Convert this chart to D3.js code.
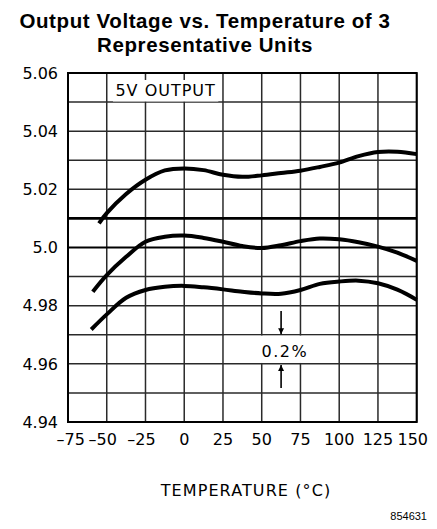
<!DOCTYPE html>
<html>
<head>
<meta charset="utf-8">
<script src="https://cdn.jsdelivr.net/npm/d3@7"></script>
<style>
  html, body { margin: 0; padding: 0; background: #fff; }
  svg { display: block; }
</style>
</head>
<body>
<svg id="chart" width="437" height="529"></svg>
<script>
// ---- data ----
const titleLines = ["Output Voltage vs. Temperature of 3", "Representative Units"];
const xTitle = "TEMPERATURE (°C)";
const figureId = "854631";
const boxLabel = "5V OUTPUT";
const spanLabel = "0.2%";

const xTicks = [-75, -50, -25, 0, 25, 50, 75, 100, 125, 150];
const xTickLabels = ["–75", "–50", "–25", "0", "25", "50", "75", "100", "125", "150"];
const yGrid = [4.94, 4.95, 4.96, 4.97, 4.98, 4.99, 5.00, 5.01, 5.02, 5.03, 5.04, 5.05, 5.06];
const yTicks = [4.94, 4.96, 4.98, 5.00, 5.02, 5.04, 5.06];
const yTickLabels = ["4.94", "4.96", "4.98", "5.0", "5.02", "5.04", "5.06"];

const unit1T = [-55, -50, -37.5, -25, -12.5, 0, 12.5, 25, 37.5, 50, 62.5, 75, 87.5, 100, 112.5, 125, 137.5, 150];
const unit1V = [5.0083, 5.0118, 5.0184, 5.0233, 5.0265, 5.0272, 5.0266, 5.0250, 5.0243, 5.0248, 5.0256, 5.0264, 5.0277, 5.0292, 5.0314, 5.0328, 5.0329, 5.0321];
const unit2T = [-59, -50, -37.5, -25, -12.5, 0, 12.5, 25, 37.5, 50, 62.5, 75, 87.5, 100, 112.5, 125, 137.5, 150];
const unit2V = [4.9848, 4.9905, 4.9968, 5.0020, 5.0037, 5.0041, 5.0033, 5.0020, 5.0005, 4.9998, 5.0008, 5.0022, 5.0031, 5.0028, 5.0018, 5.0003, 4.9982, 4.9954];
const unit3T = [-60, -50, -37.5, -25, -12.5, 0, 12.5, 25, 37.5, 50, 62.5, 75, 87.5, 100, 112.5, 125, 137.5, 150];
const unit3V = [4.9718, 4.9770, 4.9827, 4.9854, 4.9865, 4.9868, 4.9863, 4.9856, 4.9848, 4.9842, 4.9841, 4.9854, 4.9875, 4.9883, 4.9886, 4.9877, 4.9855, 4.9820];

// annotation (data units)
const boxTRange = [-46, 22];
const boxVRange = [5.0502, 5.0576];
const boxTextAt = [-12, 5.0521];
const spanT = 62.5;
const spanTopArrow = [4.9782, 4.9702];   // tail, tip
const spanBottomArrow = [4.9517, 4.9596]; // tail, tip
const spanBoxT = [25.8, 99];
const spanBoxV = [4.9603, 4.9697];
const spanTextAt = [64.9, 4.9624];

// ---- drawing ----
const svg = d3.select("#chart");
const plot = { left: 68, right: 416.7, top: 73, bottom: 422 };
const x = d3.scaleLinear().domain([-75, 150]).range([plot.left, plot.right]);
const y = d3.scaleLinear().domain([4.94, 5.06]).range([plot.bottom, plot.top]);

const tickFont = "'DejaVu Sans', sans-serif";

// title
svg.append("g").selectAll("text").data(titleLines).join("text")
  .attr("x", 205)
  .attr("y", (d, i) => 27.5 + i * 24)
  .attr("text-anchor", "middle")
  .attr("font-family", "'Liberation Sans', Arial, sans-serif")
  .attr("font-weight", "bold")
  .attr("font-size", "20.5px")
  .attr("letter-spacing", "0.6px")
  .attr("fill", "#000")
  .text(d => d);

// grid
const grid = svg.append("g");
grid.selectAll("line.v").data(xTicks).join("line")
  .attr("class", "v")
  .attr("x1", d => x(d)).attr("x2", d => x(d))
  .attr("y1", plot.top).attr("y2", plot.bottom)
  .attr("stroke", "#2a2a2a").attr("stroke-width", 1.5);
grid.selectAll("line.h").data(yGrid).join("line")
  .attr("class", "h")
  .attr("x1", plot.left).attr("x2", plot.right)
  .attr("y1", d => y(d)).attr("y2", d => y(d))
  .attr("stroke", d => (Math.abs(d - 5.01) < 1e-6 || Math.abs(d - 5.00) < 1e-6) ? "#000" : "#2a2a2a")
  .attr("stroke-width", d => Math.abs(d - 5.01) < 1e-6 ? 2.6 : (Math.abs(d - 5.00) < 1e-6 ? 2 : 1.5));

// frame
svg.append("rect")
  .attr("x", plot.left).attr("y", plot.top)
  .attr("width", plot.right - plot.left).attr("height", plot.bottom - plot.top)
  .attr("fill", "none").attr("stroke", "#000").attr("stroke-width", 2);

// white label boxes
svg.append("rect")
  .attr("x", x(boxTRange[0])).attr("width", x(boxTRange[1]) - x(boxTRange[0]))
  .attr("y", y(boxVRange[1])).attr("height", y(boxVRange[0]) - y(boxVRange[1]))
  .attr("fill", "#fff");
svg.append("text")
  .attr("x", x(boxTextAt[0])).attr("y", y(boxTextAt[1]))
  .attr("text-anchor", "middle")
  .attr("font-family", tickFont).attr("font-size", "16px")
  .attr("letter-spacing", "1px")
  .text(boxLabel);

svg.append("rect")
  .attr("x", x(spanBoxT[0])).attr("width", x(spanBoxT[1]) - x(spanBoxT[0]))
  .attr("y", y(spanBoxV[1])).attr("height", y(spanBoxV[0]) - y(spanBoxV[1]))
  .attr("fill", "#fff");
svg.append("text")
  .attr("x", x(spanTextAt[0])).attr("y", y(spanTextAt[1]))
  .attr("text-anchor", "middle")
  .attr("font-family", tickFont).attr("font-size", "16px")
  .attr("letter-spacing", "1.5px")
  .text(spanLabel);

// arrows
const defs = svg.append("defs");
defs.append("marker")
  .attr("id", "ah").attr("viewBox", "0 0 10 10")
  .attr("refX", 10).attr("refY", 5)
  .attr("markerWidth", 6).attr("markerHeight", 8)
  .attr("markerUnits", "userSpaceOnUse")
  .attr("orient", "auto")
  .append("path").attr("d", "M0,0 L10,5 L0,10 Z").attr("fill", "#000");

[spanTopArrow, spanBottomArrow].forEach(a => {
  svg.append("line")
    .attr("x1", x(spanT)).attr("x2", x(spanT))
    .attr("y1", y(a[0])).attr("y2", y(a[1]))
    .attr("stroke", "#000").attr("stroke-width", 1.6)
    .attr("marker-end", "url(#ah)");
});

// curves
const line = d3.line().x(d => x(d[0])).y(d => y(d[1])).curve(d3.curveCatmullRom.alpha(0.5));
const series = [[unit1T, unit1V], [unit2T, unit2V], [unit3T, unit3V]];
svg.append("g").selectAll("path").data(series).join("path")
  .attr("d", s => line(s[0].map((t, i) => [t, s[1][i]])))
  .attr("fill", "none").attr("stroke", "#000").attr("stroke-width", 4);

// y tick labels
svg.append("g").selectAll("text").data(yTicks).join("text")
  .attr("x", plot.left - 10)
  .attr("y", d => y(d))
  .attr("dy", "0.36em")
  .attr("text-anchor", "end")
  .attr("font-family", tickFont).attr("font-size", "16px")
  .text((d, i) => yTickLabels[i]);

// x tick labels (digits centred on tick, sign hangs left, kept inside bounds)
const xl = svg.append("g").selectAll("text").data(xTicks).join("text")
  .attr("y", plot.bottom + 23)
  .attr("text-anchor", "start")
  .attr("font-family", tickFont).attr("font-size", "16px")
  .text((d, i) => xTickLabels[i]);
xl.each(function(d, i) {
  const el = this;
  const L = el.getComputedTextLength();
  const label = xTickLabels[i];
  const signLen = label.startsWith("–") ? el.getSubStringLength(0, 1) : 0;
  const digits = L - signLen;
  let sx = x(d) - signLen - digits / 2;
  if (sx < 56.5) sx = 56.5;
  if (sx + L > 428) sx = 428 - L;
  d3.select(el).attr("x", sx);
});

// x axis title
svg.append("text")
  .attr("x", 246).attr("y", 496)
  .attr("text-anchor", "middle")
  .attr("font-family", tickFont).attr("font-size", "16px")
  .attr("letter-spacing", "1.1px")
  .text(xTitle);

// figure id
svg.append("text")
  .attr("x", 427).attr("y", 520)
  .attr("text-anchor", "end")
  .attr("font-family", "'Liberation Sans', Arial, sans-serif")
  .attr("font-size", "11px")
  .text(figureId);
</script>
</body>
</html>
